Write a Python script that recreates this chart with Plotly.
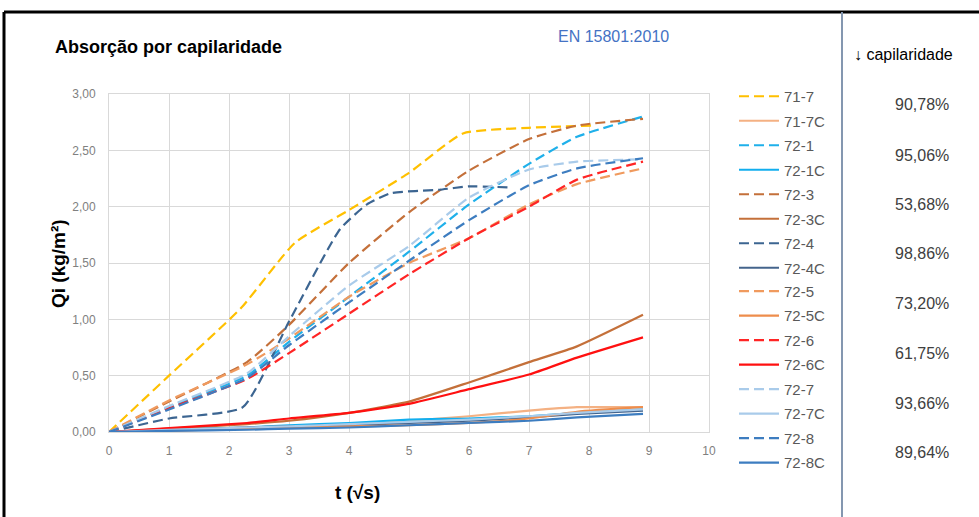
import plotly.graph_objects as go

# ---------------- data ----------------
t_common = [0, 1, 2.3, 3, 4, 5, 6, 7, 7.8, 8.9]

t_71_7 = [0, 1, 2.2, 3.1, 4, 5, 5.9, 7, 8.1]
q_71_7 = [0, 0.50, 1.10, 1.68, 1.97, 2.30, 2.65, 2.70, 2.72]

t_72_4 = [0, 1, 2.23, 3, 3.85, 4.3, 4.7, 5.5, 6, 6.7]
q_72_4 = [0, 0.12, 0.22, 0.98, 1.80, 2.02, 2.12, 2.15, 2.18, 2.17]

q_72_1 = [0, 0.22, 0.50, 0.80, 1.20, 1.60, 2.02, 2.38, 2.62, 2.80]
q_72_3 = [0, 0.27, 0.62, 0.95, 1.50, 1.95, 2.32, 2.60, 2.72, 2.78]
q_72_5 = [0, 0.28, 0.60, 0.83, 1.20, 1.50, 1.72, 2.02, 2.20, 2.34]
q_72_6 = [0, 0.21, 0.47, 0.70, 1.05, 1.40, 1.72, 2.00, 2.24, 2.40]
q_72_7 = [0, 0.23, 0.52, 0.85, 1.30, 1.65, 2.08, 2.33, 2.40, 2.42]
q_72_8 = [0, 0.20, 0.48, 0.77, 1.15, 1.52, 1.88, 2.19, 2.34, 2.43]

q_71_7C = [0, 0.02, 0.04, 0.05, 0.07, 0.10, 0.14, 0.19, 0.22, 0.22]
q_72_1C = [0, 0.02, 0.04, 0.06, 0.08, 0.11, 0.12, 0.14, 0.17, 0.20]
q_72_3C = [0, 0.03, 0.07, 0.10, 0.17, 0.27, 0.44, 0.62, 0.76, 1.04]
q_72_4C = [0, 0.02, 0.04, 0.05, 0.06, 0.08, 0.10, 0.13, 0.16, 0.19]
q_72_5C = [0, 0.01, 0.03, 0.04, 0.05, 0.06, 0.08, 0.12, 0.18, 0.22]
q_72_6C = [0, 0.035, 0.08, 0.12, 0.17, 0.25, 0.38, 0.51, 0.66, 0.84]
q_72_7C = [0, 0.02, 0.04, 0.05, 0.07, 0.09, 0.11, 0.14, 0.17, 0.20]
q_72_8C = [0, 0.01, 0.02, 0.03, 0.04, 0.06, 0.08, 0.10, 0.13, 0.16]

series_names = ["71-7", "71-7C", "72-1", "72-1C", "72-3", "72-3C", "72-4", "72-4C",
                "72-5", "72-5C", "72-6", "72-6C", "72-7", "72-7C", "72-8", "72-8C"]
series_t = [t_71_7, t_common, t_common, t_common, t_common, t_common, t_72_4, t_common,
            t_common, t_common, t_common, t_common, t_common, t_common, t_common, t_common]
series_q = [q_71_7, q_71_7C, q_72_1, q_72_1C, q_72_3, q_72_3C, q_72_4, q_72_4C,
            q_72_5, q_72_5C, q_72_6, q_72_6C, q_72_7, q_72_7C, q_72_8, q_72_8C]

reduction_labels = ["90,78%", "95,06%", "53,68%", "98,86%", "73,20%", "61,75%", "93,66%", "89,64%"]

# ---------------- styles ----------------
colors = ["#FFC000", "#F4B183", "#1FB0EA", "#12AEEE", "#C4703A", "#C4703A", "#3C6591", "#44648C",
          "#F09A5E", "#EE8D4C", "#FF2525", "#FF1010", "#A9CBEA", "#A9CBEA", "#3D7DC0", "#3D7DC0"]
dashed = [True, False] * 8

FONT = "Liberation Sans, Arial, sans-serif"

fig = go.Figure()
for i, (name, t, q) in enumerate(zip(series_names, series_t, series_q)):
    fig.add_trace(go.Scatter(
        x=t, y=q, name=name, mode="lines", legendgroup=name,
        legend="legend" if i < 8 else "legend2",
        line=dict(color=colors[i], width=2.2, dash="10px,5px" if dashed[i] else "solid",
                  shape="spline", smoothing=0.5),
    ))

# plot area in pixels: x 109..709, y 94..432
L, R, T, B = 109, 709, 94, 432
W, H = 979, 517
def px(xp):
    return (xp - L) / (R - L)
def py(yp):
    return (B - yp) / (B - T)

legend_style = dict(xanchor="left", yanchor="top", font=dict(size=15, color="#595959"),
                    tracegroupgap=2, bgcolor="rgba(0,0,0,0)", itemwidth=40)

fig.update_layout(
    width=W, height=H,
    margin=dict(l=L, r=W - R, t=T, b=H - B, pad=0, autoexpand=False),
    paper_bgcolor="white", plot_bgcolor="white",
    separators=", ",
    font=dict(family=FONT, color="#595959"),
    showlegend=True,
    legend=dict(x=px(734), y=py(80), **legend_style),
    legend2=dict(x=px(734), y=py(80 + 8 * 24.35), **legend_style),
    xaxis=dict(range=[0, 10], dtick=1, showgrid=True, gridcolor="#D9D9D9", gridwidth=1,
               zeroline=False, showline=True, mirror=True, linecolor="#D9D9D9",
               ticks="", tickfont=dict(size=12, color="#808080"), ticklabelstandoff=8),
    yaxis=dict(range=[0, 3], dtick=0.5, tickformat=".2f", showgrid=True, gridcolor="#D9D9D9",
               gridwidth=1, zeroline=False, showline=True, mirror=True, linecolor="#D9D9D9",
               ticks="", tickfont=dict(size=12, color="#808080"), ticklabelstandoff=10),
)

annotations = [
    dict(text="<b>Absorção por capilaridade</b>", x=px(53), y=py(47), xanchor="left",
         yanchor="middle", font=dict(size=18, color="#000000")),
    dict(text="EN 15801:2010", x=px(556), y=py(36), xanchor="left", yanchor="middle",
         font=dict(size=16, color="#4472C4")),
    dict(text="↓ capilaridade", x=px(852), y=py(54), xanchor="left", yanchor="middle",
         font=dict(size=16, color="#000000")),
    dict(text="<b>Qi (kg/m²)</b>", x=px(58), y=py(263), textangle=-90, xanchor="center",
         yanchor="middle", font=dict(size=19, color="#000000")),
    dict(text="<b>t (√s)</b>", x=px(357), y=py(492), xanchor="center", yanchor="middle",
         font=dict(size=19, color="#000000")),
]
pct_y = [104, 155, 204, 253, 303, 353, 403, 452]
for lab, yy in zip(reduction_labels, pct_y):
    annotations.append(dict(text=lab, x=px(922), y=py(yy), xanchor="center", yanchor="middle",
                            font=dict(size=16, color="#404040")))
for a in annotations:
    a.update(xref="paper", yref="paper", showarrow=False)
fig.update_layout(annotations=annotations)

shapes = [
    # outer black frame (top and left)
    dict(type="line", x0=px(4), x1=px(985), y0=py(12), y1=py(12), line=dict(color="#000000", width=3)),
    dict(type="line", x0=px(4), x1=px(4), y0=py(12), y1=py(525), line=dict(color="#000000", width=3)),
    # divider
    dict(type="line", x0=px(842), x1=px(842), y0=py(12), y1=py(525), line=dict(color="#8497B0", width=2)),
]
for s in shapes:
    s.update(xref="paper", yref="paper", layer="above")
fig.update_layout(shapes=shapes)

fig.write_html("out.html", config={"displayModeBar": False},
               post_script="document.body.style.margin='0';")
